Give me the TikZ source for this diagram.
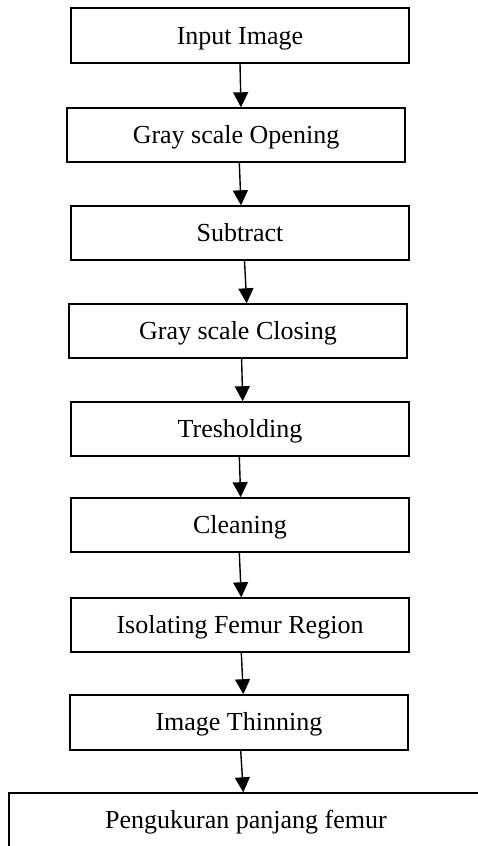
\documentclass[tikz,border=0pt]{standalone}
\usepackage{fontspec}
\setmainfont{Liberation Serif}
\usetikzlibrary{arrows.meta}

\tikzset{
  stage/.style={draw, line width=1.4pt, rectangle, minimum width=338pt, minimum height=54pt, inner sep=0pt, text height=18pt, text depth=1pt, font=\fontsize{26}{30}\selectfont},
  flow/.style={line width=1.4pt, -{Triangle[width=15pt,length=15pt]}}
}

\begin{document}
\begin{tikzpicture}[x=1pt, y=-1pt]
        \path[use as bounding box, clip] (0, 0) rectangle (478, 846);
        \node[stage, minimum height=55pt] (input) at (240, 35.5) {Input Image};
        \node[stage] (opening) at (236, 135) {Gray scale Opening};
        \node[stage] (subtract) at (240, 233) {Subtract};
        \node[stage] (closing) at (238, 331) {Gray scale Closing};
        \node[stage] (thresh) at (240, 428.9) {Tresholding};
        \node[stage] (clean) at (240, 524.9) {Cleaning};
        \node[stage] (femur) at (240, 625) {Isolating Femur Region};
        \node[stage, minimum height=55pt] (thin) at (238.9, 722.4) {Image Thinning};
        \node[stage, minimum width=474pt] (ukur) at (246, 820) {Pengukuran panjang femur};
        \draw[flow] (input.south) -- ([xshift=5pt]opening.north);
        \draw[flow] ([xshift=3.3pt]opening.south) -- ([xshift=1pt]subtract.north);
        \draw[flow] ([xshift=4.5pt]subtract.south) -- ([xshift=8.7pt]closing.north);
        \draw[flow] ([xshift=3.6pt]closing.south) -- ([xshift=2.7pt]thresh.north);
        \draw[flow] ([xshift=-0.7pt]thresh.south) -- ([xshift=0.7pt]clean.north);
        \draw[flow] ([xshift=-0.7pt]clean.south) -- ([xshift=1.3pt]femur.north);
        \draw[flow] ([xshift=1.3pt]femur.south) -- ([xshift=4.4pt]thin.north);
        \draw[flow] ([xshift=1.8pt]thin.south) -- ([xshift=-2.7pt]ukur.north);
\end{tikzpicture}
\end{document}
